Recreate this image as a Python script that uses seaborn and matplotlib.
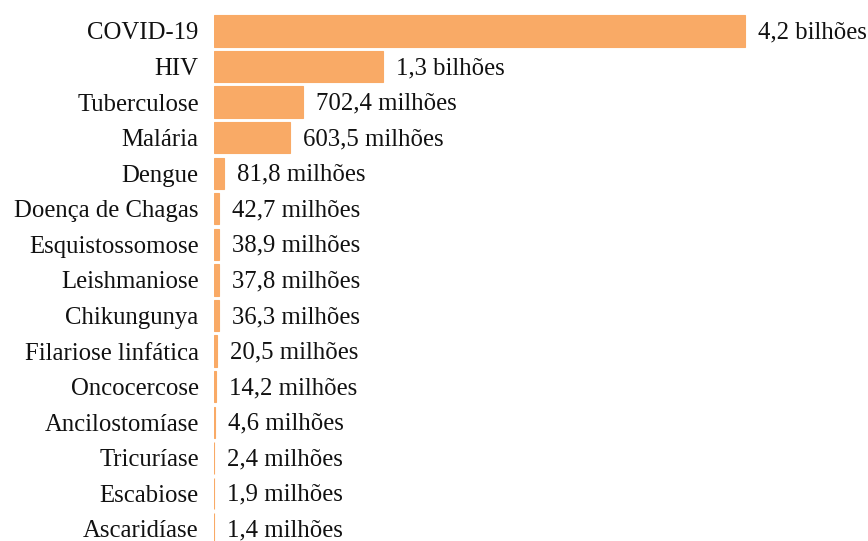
import matplotlib
matplotlib.use("Agg")
import matplotlib.pyplot as plt
import seaborn as sns
import pandas as pd

diseases = ["COVID-19", "HIV", "Tuberculose", "Malária", "Dengue", "Doença de Chagas",
            "Esquistossomose", "Leishmaniose", "Chikungunya", "Filariose linfática",
            "Oncocercose", "Ancilostomíase", "Tricuríase", "Escabiose", "Ascaridíase"]
values = [4.2e9, 1.34e9, 702.4e6, 603.5e6, 81.8e6, 42.7e6, 38.9e6, 37.8e6, 36.3e6,
          20.5e6, 14.2e6, 4.6e6, 2.4e6, 1.9e6, 1.4e6]
labels = ["4,2 bilhões", "1,3 bilhões", "702,4 milhões", "603,5 milhões", "81,8 milhões",
          "42,7 milhões", "38,9 milhões", "37,8 milhões", "36,3 milhões", "20,5 milhões",
          "14,2 milhões", "4,6 milhões", "2,4 milhões", "1,9 milhões", "1,4 milhões"]

df = pd.DataFrame({"disease": diseases, "value": values})

sns.set_theme(style="white")
plt.rcParams["font.family"] = ["Liberation Serif", "DejaVu Serif"]

W, H = 868, 541
fig = plt.figure(figsize=(W / 100, H / 100), dpi=100)
ax_left, ax_top = 214, 13.2
ax = fig.add_axes([ax_left / W, 0, (W - ax_left) / W, (H - ax_top) / H])

sns.barplot(data=df, x="value", y="disease", orient="h", color="#F9AA66",
            saturation=1, width=0.88, ax=ax, linewidth=0.8, edgecolor="#F9AA66")

xmax = 4.2e9 * (W - ax_left) / (745 - ax_left)
ax.set_xlim(0, xmax)
ax.set_ylim(14 + (H - 529) / 35.57, -0.5)

offset = 13 * xmax / (W - ax_left)
for i, (v, lab) in enumerate(zip(values, labels)):
    ax.text(v + offset, i + 0.04, lab, va="center", ha="left", fontsize=17.8,
            color="#111111")

ax.set_xlabel("")
ax.set_ylabel("")
ax.set_xticks([])
ax.tick_params(axis="y", length=0, pad=11, labelsize=17.8, labelcolor="#111111")
for t in ax.get_yticklabels():
    t.set_y(t.get_position()[1])
for s in ax.spines.values():
    s.set_visible(False)

fig.savefig("out.png", dpi=100)
